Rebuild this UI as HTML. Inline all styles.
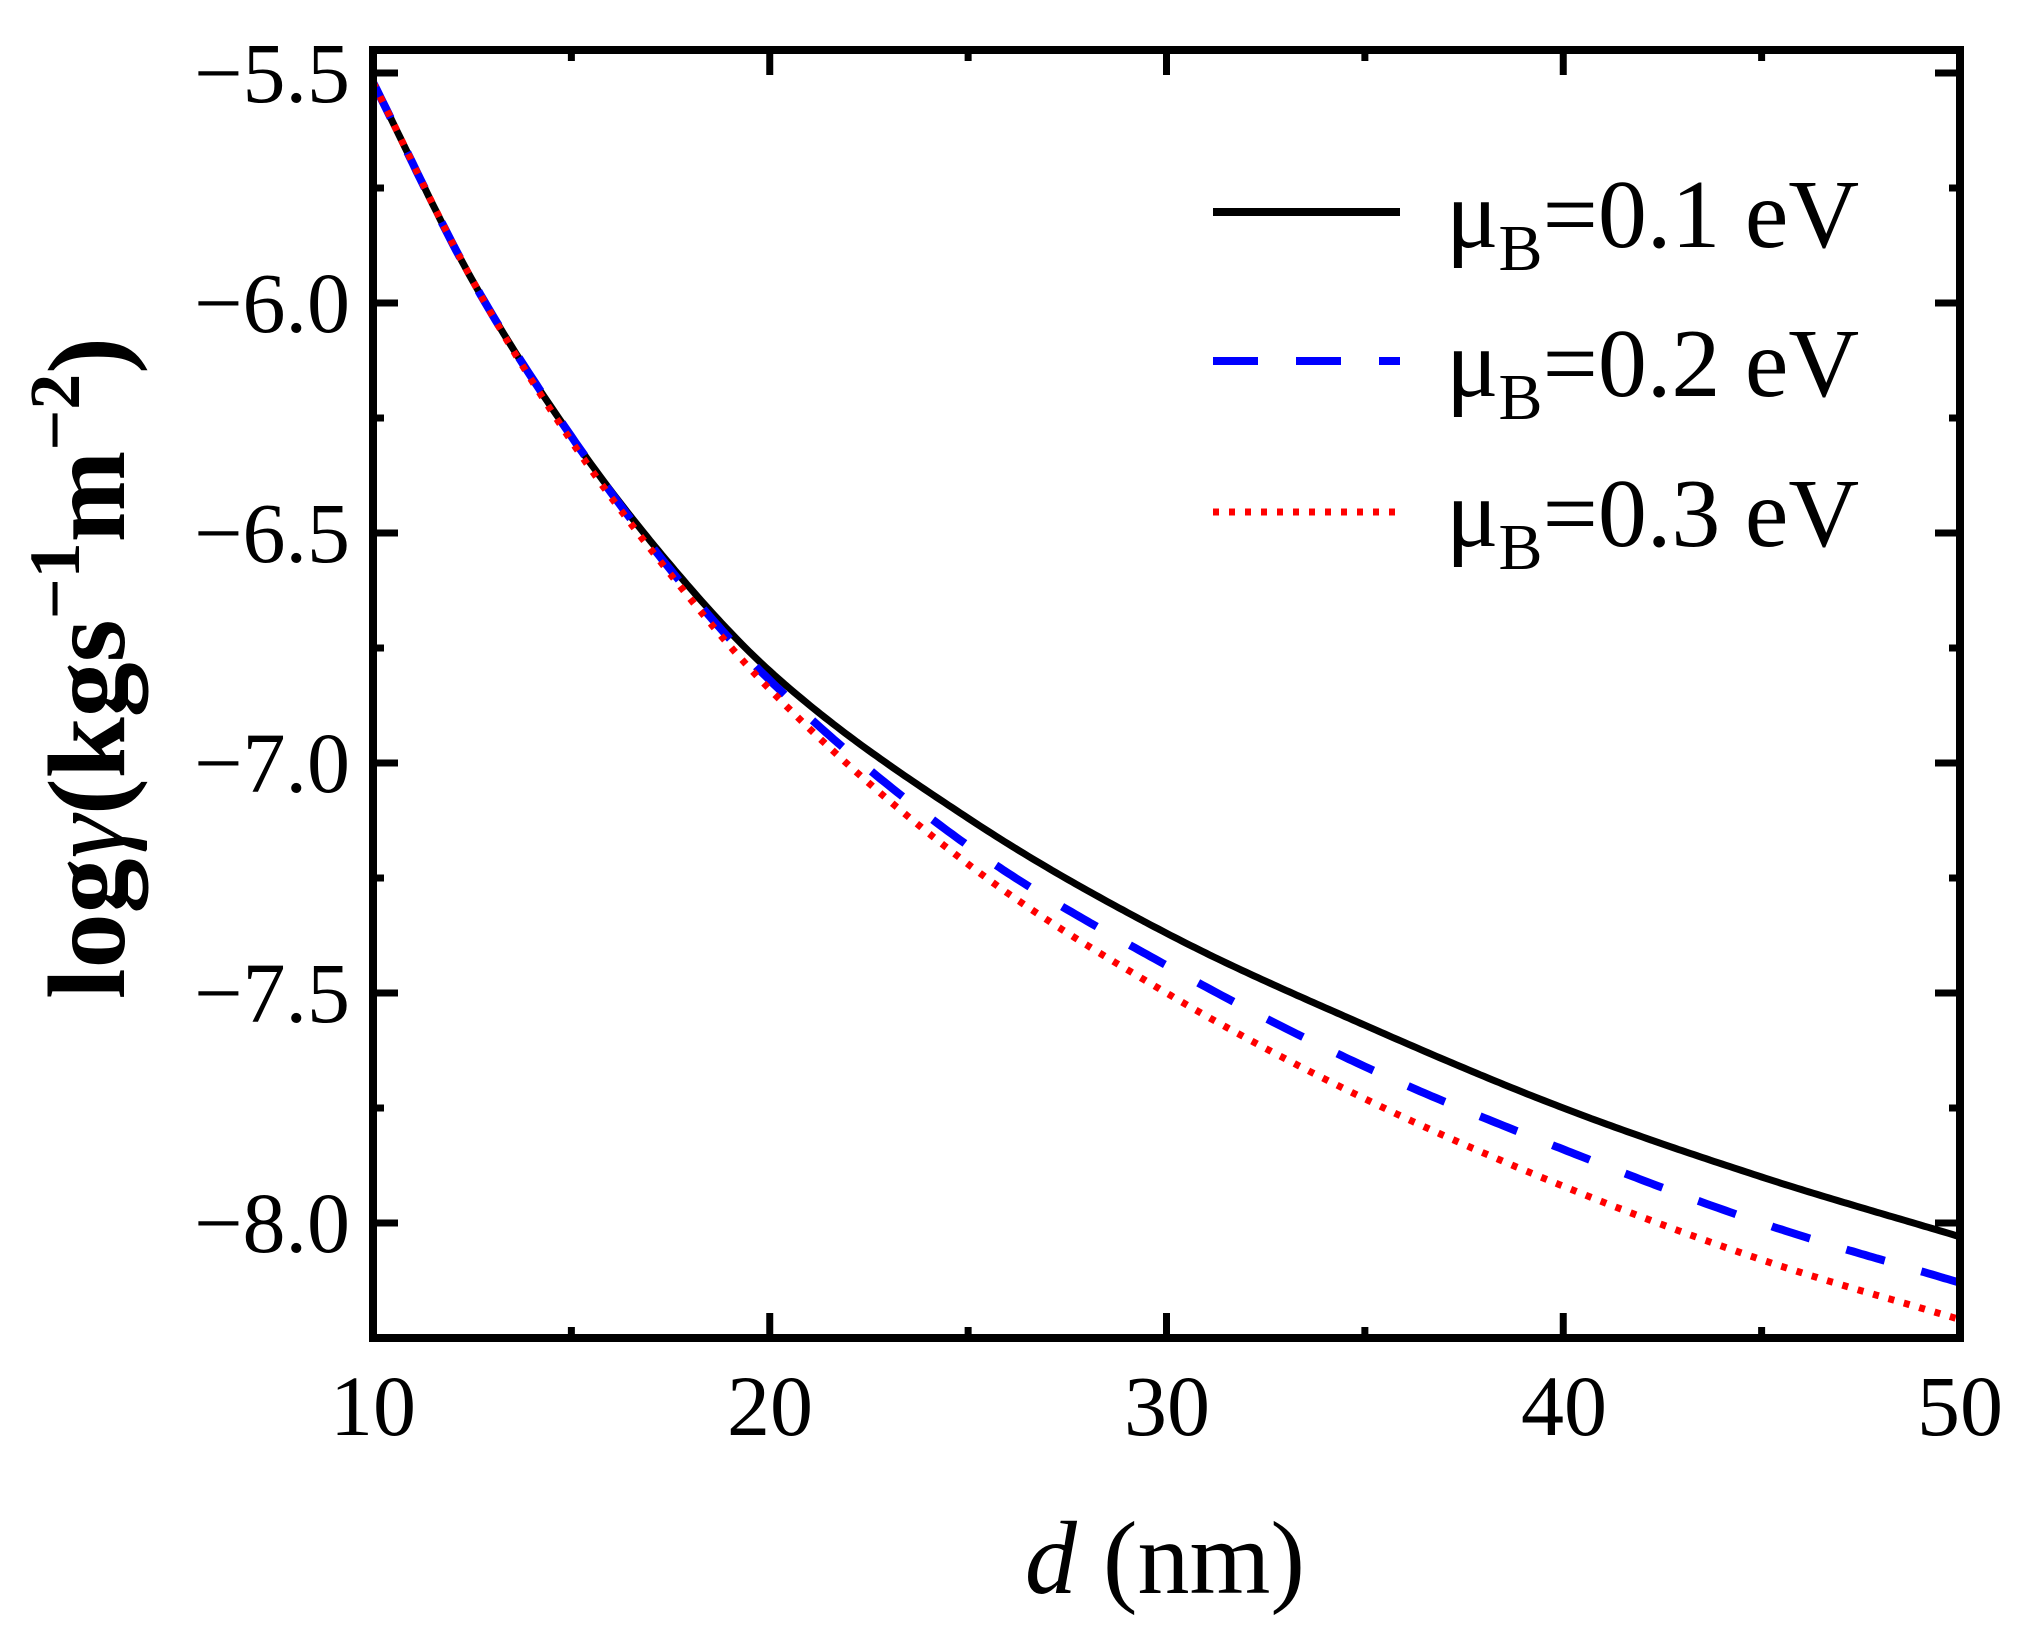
<!DOCTYPE html>
<html><head><meta charset="utf-8"><style>
html,body{margin:0;padding:0;background:#fff;}
svg{display:block;}
text{font-family:"Liberation Serif",serif;fill:#000;}
</style></head><body>
<svg id="s" width="2024" height="1643" viewBox="0 0 2024 1643" xmlns="http://www.w3.org/2000/svg">
<g font-size="86" text-anchor="end">
<text x="350" y="102">−5.5</text>
<text x="350" y="332">−6.0</text>
<text x="350" y="562">−6.5</text>
<text x="350" y="792">−7.0</text>
<text x="350" y="1022">−7.5</text>
<text x="350" y="1252">−8.0</text>
</g>
<g font-size="86" text-anchor="middle">
<text x="373" y="1435">10</text>
<text x="770" y="1435">20</text>
<text x="1167" y="1435">30</text>
<text x="1564" y="1435">40</text>
<text x="1960" y="1435">50</text>
</g>
<text x="1165" y="1593" font-size="104" text-anchor="middle"><tspan font-style="italic">d</tspan> (nm)</text>
<text transform="translate(124,668) rotate(-90)" font-size="110" font-weight="bold" text-anchor="middle">log<tspan font-weight="normal" font-style="italic">γ</tspan>(kgs<tspan font-size="72" dy="-45">−1</tspan><tspan dy="45">m</tspan><tspan font-size="72" dy="-45">−2</tspan><tspan dy="45">)</tspan></text>
<g id="curves" fill="none" stroke-width="7"></g>
<g id="ticks" stroke="#000" stroke-width="7"></g>
<rect x="373" y="50" width="1587" height="1288" fill="none" stroke="#000" stroke-width="8"/>
<line x1="1213" y1="212" x2="1400" y2="212" stroke="#000" stroke-width="8"/>
<line x1="1213" y1="361" x2="1400" y2="361" stroke="#0000ff" stroke-width="8" stroke-dasharray="45,38"/>
<line x1="1213" y1="512" x2="1400" y2="512" stroke="#ff0000" stroke-width="7" stroke-dasharray="6,10"/>
<g font-size="98">
<text x="1446" y="247">μ<tspan font-size="66" dy="23">B</tspan><tspan dy="-23">=0.1 eV</tspan></text>
<text x="1446" y="396">μ<tspan font-size="66" dy="23">B</tspan><tspan dy="-23">=0.2 eV</tspan></text>
<text x="1446" y="546">μ<tspan font-size="66" dy="23">B</tspan><tspan dy="-23">=0.3 eV</tspan></text>
</g>
</svg>
<script>
var NS="http://www.w3.org/2000/svg";
function X(d){return 373+(d-10)*39.675;}
function Y(v){return 73+(-5.5-v)*460;}
var t=document.getElementById("ticks");
function ln(x1,y1,x2,y2){var l=document.createElementNS(NS,"line");l.setAttribute("x1",x1);l.setAttribute("y1",y1);l.setAttribute("x2",x2);l.setAttribute("y2",y2);t.appendChild(l);}
for(var i=0;i<=11;i++){var v=-5.5-i*0.25;var y=Y(v);if(y>1335)break;var L=(i%2==0)?25:11;ln(373,y,373+L,y);ln(1960,y,1960-L,y);}
for(var d=10;d<=50;d+=5){var x=X(d);var L=(d%10==0)?25:11;ln(x,1338,x,1338-L);ln(x,50,x,50+L);}
function mono(xs,ys){var n=xs.length,dl=[],m=[];for(var i=0;i<n-1;i++)dl.push((ys[i+1]-ys[i])/(xs[i+1]-xs[i]));m[0]=dl[0];m[n-1]=dl[n-2];for(i=1;i<n-1;i++){m[i]=dl[i-1]*dl[i]<=0?0:(dl[i-1]+dl[i])/2;}
return function(x){var k=0;while(k<n-2&&x>xs[k+1])k++;var h=xs[k+1]-xs[k],s=(x-xs[k])/h;var h00=2*s*s*s-3*s*s+1,h10=s*s*s-2*s*s+s,h01=-2*s*s*s+3*s*s,h11=s*s*s-s*s;return h00*ys[k]+h10*h*m[k]+h01*ys[k+1]+h11*h*m[k+1];};}
var xs=[10,12.5,15,17.5,20,25,30,35,40,45,50];
var series=[
 {c:"#000",da:"",y:[-5.52,-5.95,-6.29,-6.57,-6.80,-7.12,-7.37,-7.57,-7.75,-7.90,-8.03]},
 {c:"#0000ff",da:"40,38",y:[-5.52,-5.95,-6.29,-6.58,-6.82,-7.18,-7.44,-7.66,-7.84,-8.00,-8.13]},
 {c:"#ff0000",da:"6,10",y:[-5.52,-5.95,-6.30,-6.59,-6.84,-7.22,-7.50,-7.73,-7.92,-8.08,-8.21]}
];
var g=document.getElementById("curves");
series.forEach(function(s){var f=mono(xs,s.y);var p="";for(var d=10;d<=50.001;d+=0.1){p+=(p?"L":"M")+X(d).toFixed(1)+","+Y(f(d)).toFixed(1);}
var e=document.createElementNS(NS,"path");e.setAttribute("d",p);e.setAttribute("stroke",s.c);if(s.da)e.setAttribute("stroke-dasharray",s.da);if(s.c=="#0000ff")e.setAttribute("stroke-width","8");g.appendChild(e);});
</script>
</body></html>
